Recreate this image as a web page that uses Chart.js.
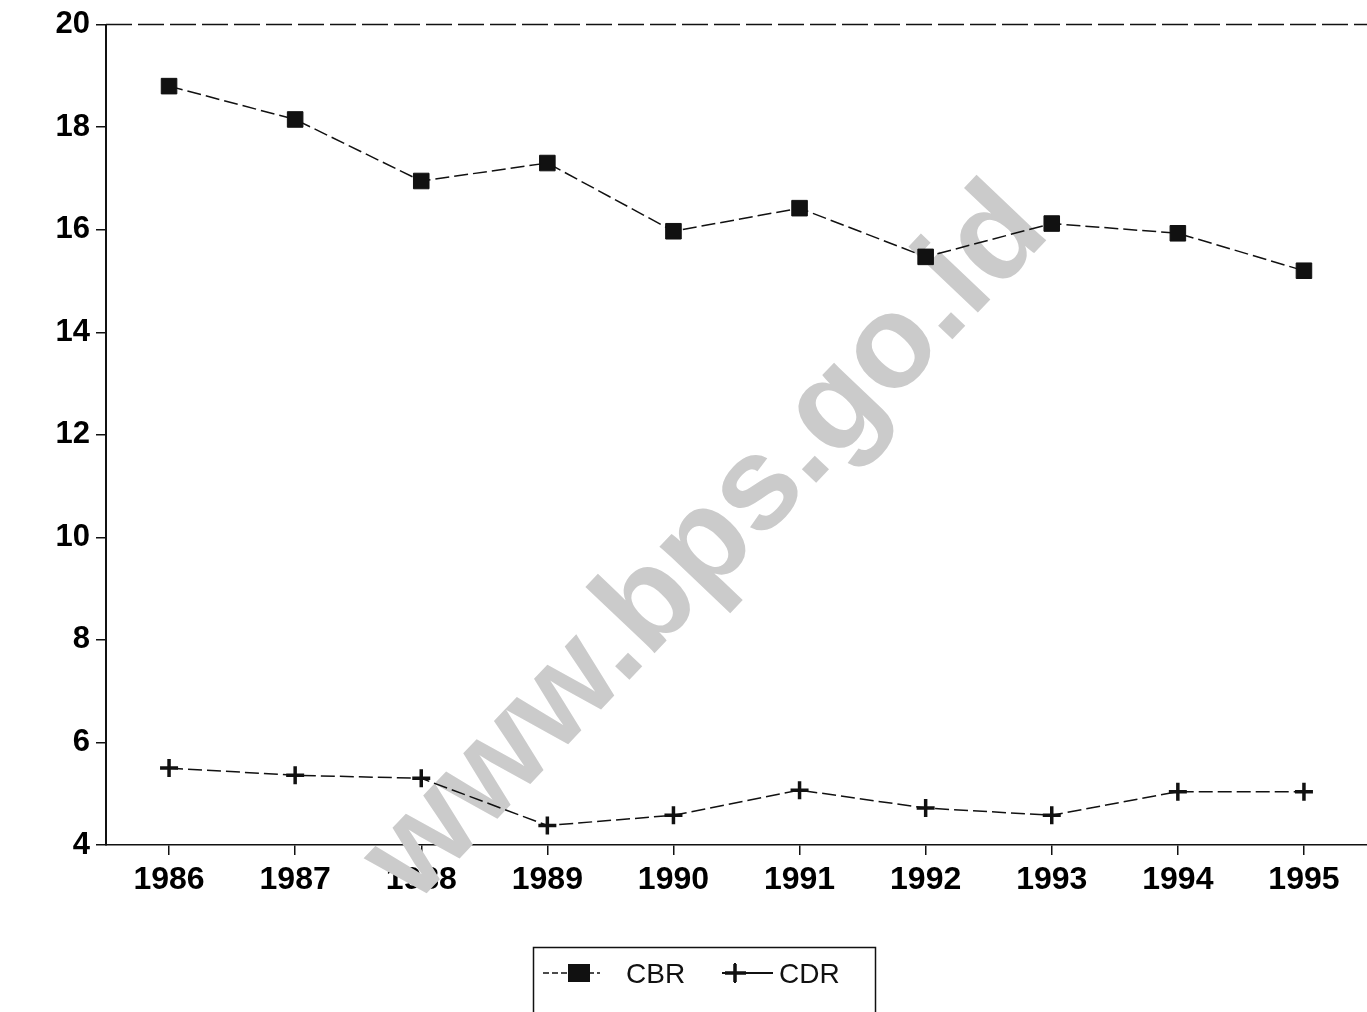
<!DOCTYPE html>
<html>
<head>
<meta charset="utf-8">
<script src="https://cdn.jsdelivr.net/npm/chart.js@4/dist/chart.umd.min.js"></script>
<style>
  html, body { margin: 0; padding: 0; background: #fff; overflow: hidden; }
  canvas { display: block; }
</style>
</head>
<body>
<canvas id="grafico" width="1367" height="1012"></canvas>
<script>
'use strict';

// data
const tahun = ['1986', '1987', '1988', '1989', '1990', '1991', '1992', '1993', '1994', '1995'];
const nilaiCBR = [18.8, 18.15, 16.95, 17.3, 15.97, 16.42, 15.47, 16.12, 15.93, 15.2];
const nilaiCDR = [5.5, 5.36, 5.3, 4.38, 4.58, 5.07, 4.72, 4.58, 5.04, 5.04];
const ticksY = [4, 6, 8, 10, 12, 14, 16, 18, 20];

const FONT = '"Liberation Sans", Arial, sans-serif';

//========================================================================================
// frame top line, legend box and watermark
const hiasan = {
    id: 'hiasan',
    beforeDatasetsDraw(chart) {
        const ctx = chart.ctx;
        const area = chart.chartArea;
        ctx.save();
        // watermark
        ctx.translate(707, 545);
        ctx.rotate(-46.5 * Math.PI / 180);
        ctx.font = 'bold 132px ' + FONT;
        ctx.fillStyle = '#cbcbcb';
        ctx.textAlign = 'center';
        ctx.textBaseline = 'middle';
        ctx.fillText('www.bps.go.id', 0, 0);
        ctx.restore();

        ctx.save();
        ctx.strokeStyle = '#111';
        ctx.lineWidth = 1.5;
        ctx.setLineDash([26, 6]);
        ctx.beginPath();
        ctx.moveTo(area.left, area.top);
        ctx.lineTo(area.right, area.top);
        ctx.stroke();
        ctx.restore();
    },
    afterDraw(chart) {
        const ctx = chart.ctx;
        const ds = chart.data.datasets;
        ctx.save();
        ctx.strokeStyle = '#111';
        ctx.lineWidth = 1.5;
        ctx.strokeRect(533.5, 947.5, 342, 80);

        const yL = 973;
        // CBR
        ctx.beginPath();
        ctx.setLineDash([6, 3]);
        ctx.moveTo(543, yL);
        ctx.lineTo(600, yL);
        ctx.stroke();
        ctx.setLineDash([]);
        ctx.fillStyle = '#111';
        ctx.fillRect(568, yL - 9, 22, 18);
        // CDR
        ctx.lineWidth = 2;
        ctx.beginPath();
        ctx.moveTo(722, yL);
        ctx.lineTo(773, yL);
        ctx.moveTo(735, yL - 10);
        ctx.lineTo(735, yL + 10);
        ctx.stroke();
        ctx.lineWidth = 3.5;
        ctx.beginPath();
        ctx.moveTo(725, yL);
        ctx.lineTo(746, yL);
        ctx.moveTo(735, yL - 9);
        ctx.lineTo(735, yL + 9);
        ctx.stroke();

        ctx.font = '28px ' + FONT;
        ctx.textBaseline = 'middle';
        ctx.fillText(ds[0].label, 626, yL + 2);
        ctx.fillText(ds[1].label, 779, yL + 2);
        ctx.restore();
    }
};
//========================================================================================

const grafico = new Chart(document.getElementById('grafico'), {
    type: 'line',
    data: {
        labels: tahun,
        datasets: [{
            label: 'CBR',
            data: nilaiCBR,
            borderColor: '#111',
            borderWidth: 1.5,
            borderDash: [14, 5],
            pointStyle: 'rect',
            pointRadius: 11,
            pointBackgroundColor: '#111',
            pointBorderColor: '#111',
            pointBorderWidth: 1,
            tension: 0
        }, {
            label: 'CDR',
            data: nilaiCDR,
            borderColor: '#111',
            borderWidth: 1.5,
            borderDash: [14, 5],
            pointStyle: 'cross',
            pointRadius: 9,
            pointBorderColor: '#111',
            pointBorderWidth: 3.5,
            tension: 0
        }]
    },
    options: {
        responsive: false,
        animation: false,
        layout: { autoPadding: false, padding: { top: 24, right: 0, left: 0, bottom: 0 } },
        plugins: {
            legend: { display: false },
            tooltip: { enabled: false }
        },
        scales: {
            x: {
                offset: true,
                grid: { display: true, drawOnChartArea: false, drawTicks: true, tickLength: 10, color: '#111', lineWidth: 1.5, offset: false },
                border: { color: '#111', width: 1.5 },
                ticks: { color: '#000', font: { family: FONT, size: 32, weight: 'bold' }, padding: 6, maxRotation: 0 },
                afterFit(scale) { scale.height = 1012 - 845; }
            },
            y: {
                min: 4,
                max: 20,
                afterBuildTicks(scale) { scale.ticks = ticksY.map(v => ({ value: v })); },
                grid: { display: true, drawOnChartArea: false, drawTicks: true, tickLength: 10, color: '#111', lineWidth: 1.5 },
                border: { color: '#111', width: 2 },
                ticks: { color: '#000', font: { family: FONT, size: 31, weight: 'bold' }, padding: 6 },
                afterFit(scale) { scale.width = 106; }
            }
        }
    },
    plugins: [hiasan]
});
</script>
</body>
</html>
